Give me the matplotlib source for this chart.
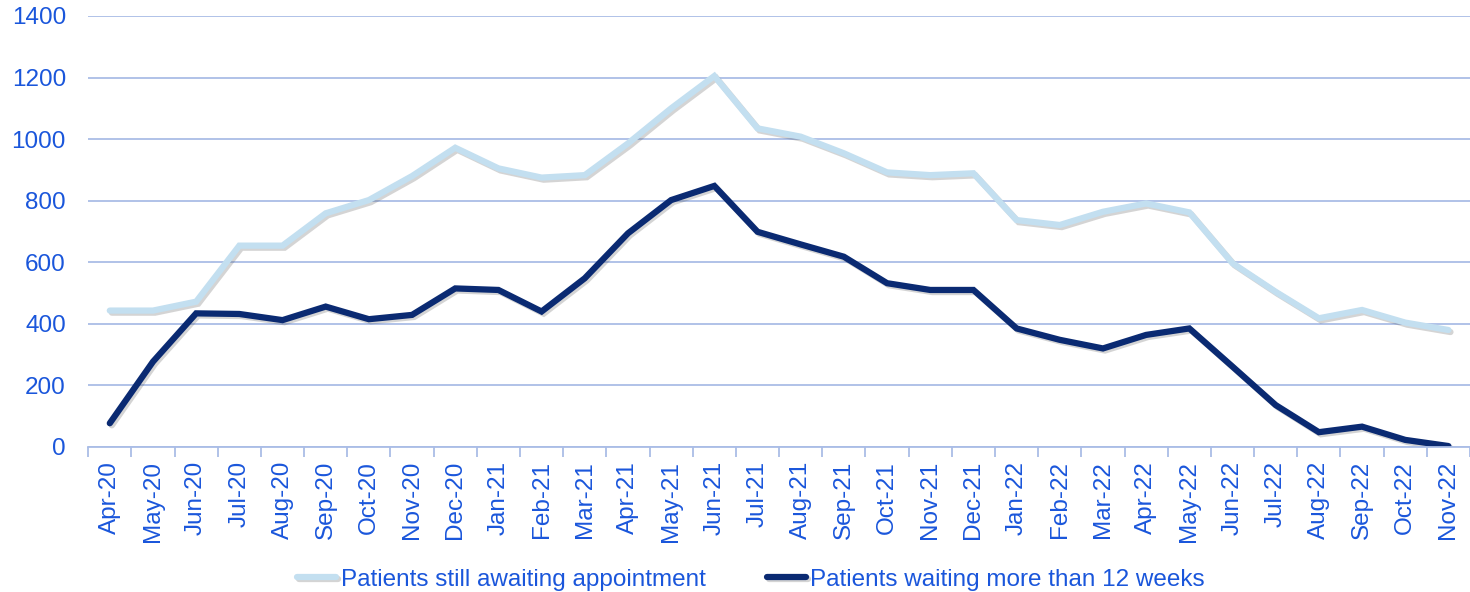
import matplotlib.pyplot as plt
import matplotlib.patheffects as pe
from matplotlib.ticker import FixedLocator

plt.rcParams['font.family'] = ['Liberation Sans', 'DejaVu Sans']

months = ['Apr-20', 'May-20', 'Jun-20', 'Jul-20', 'Aug-20', 'Sep-20', 'Oct-20', 'Nov-20', 'Dec-20',
          'Jan-21', 'Feb-21', 'Mar-21', 'Apr-21', 'May-21', 'Jun-21', 'Jul-21', 'Aug-21', 'Sep-21',
          'Oct-21', 'Nov-21', 'Dec-21', 'Jan-22', 'Feb-22', 'Mar-22', 'Apr-22', 'May-22', 'Jun-22',
          'Jul-22', 'Aug-22', 'Sep-22', 'Oct-22', 'Nov-22']
awaiting = [443, 443, 472, 654, 654, 759, 802, 880, 972,
            905, 875, 883, 986, 1100, 1205, 1035, 1008, 954,
            892, 883, 889, 737, 721, 764, 791, 762, 597,
            504, 418, 445, 404, 380]
over_12w = [77, 277, 434, 432, 412, 456, 415, 429, 515,
            510, 440, 548, 694, 802, 848, 699, 658, 618,
            532, 510, 510, 385, 348, 320, 364, 385, 261,
            136, 48, 66, 23, 3]
yticks = [0, 200, 400, 600, 800, 1000, 1200, 1400]

text_col = '#1a56db'
grid_col = '#aabde6'

fig = plt.figure(figsize=(14.7, 5.92), dpi=100)
ax = fig.add_axes([0.06, 0.245, 0.94, 0.728])

x = range(len(months))
shadow = [pe.SimpleLineShadow(offset=(1.5, -1.5), alpha=0.25, shadow_color='#555555'), pe.Normal()]
ax.plot(x, awaiting, color='#c3dff0', lw=4.5, solid_joinstyle='miter', solid_capstyle='round',
        label='Patients still awaiting appointment', path_effects=shadow)
ax.plot(x, over_12w, color='#0a2a72', lw=4.5, solid_joinstyle='miter', solid_capstyle='round',
        label='Patients waiting more than 12 weeks', path_effects=shadow)

ax.set_xlim(-0.5, len(months) - 0.5)
ax.set_ylim(0, 1400)
ax.set_yticks(yticks)
ax.yaxis.grid(True, color=grid_col, lw=1.3)
ax.set_axisbelow(True)
for s in ['top', 'right', 'left']:
    ax.spines[s].set_visible(False)
ax.spines['bottom'].set_color(grid_col)
ax.spines['bottom'].set_linewidth(1.3)

ax.set_xticks(list(x))
ax.set_xticklabels(months, rotation=90, va='top', ha='center')
ax.xaxis.set_minor_locator(FixedLocator([i - 0.5 for i in range(len(months) + 1)]))
ax.tick_params(axis='x', which='major', length=0, pad=10, labelsize=17.5, labelcolor=text_col)
ax.tick_params(axis='x', which='minor', length=7, width=1.3, color=grid_col)
ax.tick_params(axis='y', length=0, pad=16, labelsize=17.5, labelcolor=text_col)

leg = fig.legend(loc='lower center', bbox_to_anchor=(0.511, -0.035), ncol=2, frameon=False,
                 fontsize=17.5, handlelength=1.6, handletextpad=0.2, columnspacing=2.5)
for t in leg.get_texts():
    t.set_color(text_col)

fig.savefig('out.png', dpi=100)
